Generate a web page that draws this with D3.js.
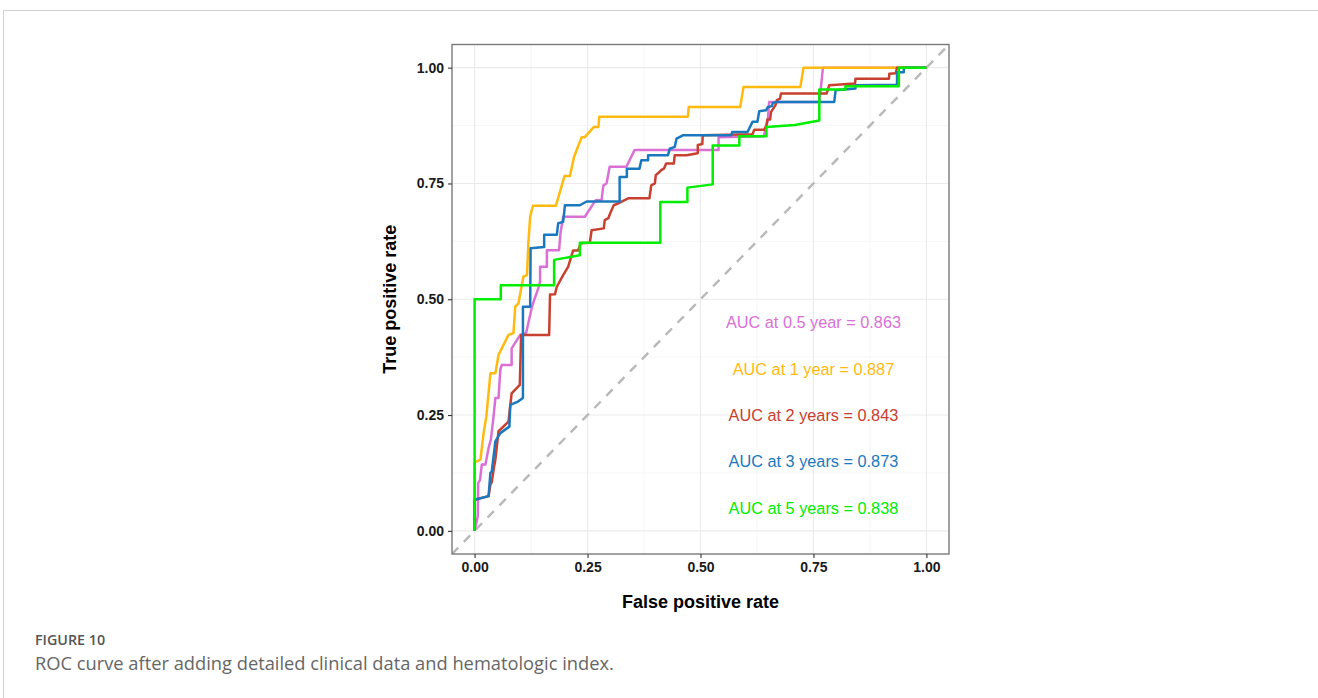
<!DOCTYPE html>
<html>
<head>
<meta charset="utf-8">
<script src="https://cdn.jsdelivr.net/npm/d3@7"></script>
<style>
  html, body { margin: 0; padding: 0; background: #fff; }
  svg { display: block; }
</style>
</head>
<body>
<div id="chart"></div>
<script>
// ROC points [false positive rate, true positive rate]
const roc05 = [[0,0],[0.007,0.031],[0.008,0.103],[0.012,0.11],[0.016,0.143],[0.024,0.143],[0.031,0.179],[0.036,0.197],
  [0.042,0.247],[0.046,0.287],[0.053,0.287],[0.057,0.348],[0.06,0.358],[0.082,0.358],[0.082,0.394],[0.101,0.423],
  [0.114,0.427],[0.127,0.484],[0.141,0.524],[0.145,0.538],[0.145,0.57],[0.16,0.57],[0.16,0.606],[0.187,0.606],
  [0.19,0.642],[0.196,0.678],[0.244,0.678],[0.268,0.714],[0.281,0.714],[0.285,0.746],[0.292,0.75],[0.299,0.786],
  [0.336,0.786],[0.354,0.822],[0.54,0.822],[0.54,0.85],[0.64,0.852],[0.649,0.886],[0.652,0.926],[0.763,0.926],
  [0.767,0.962],[0.771,1],[1,1]];
const roc1 = [[0,0],[0,0.148],[0.013,0.154],[0.02,0.211],[0.026,0.247],[0.033,0.319],[0.035,0.34],[0.046,0.34],
  [0.053,0.38],[0.075,0.423],[0.086,0.427],[0.09,0.484],[0.097,0.491],[0.108,0.549],[0.116,0.552],[0.119,0.621],
  [0.123,0.678],[0.129,0.702],[0.18,0.702],[0.199,0.766],[0.211,0.766],[0.22,0.807],[0.237,0.85],[0.244,0.85],
  [0.264,0.872],[0.274,0.872],[0.276,0.894],[0.472,0.894],[0.474,0.915],[0.588,0.915],[0.595,0.958],[0.721,0.958],
  [0.728,1],[1,1]];
const roc2 = [[0,0],[0,0.067],[0.031,0.075],[0.035,0.1],[0.038,0.105],[0.042,0.132],[0.046,0.154],[0.053,0.215],
  [0.075,0.236],[0.082,0.297],[0.1,0.315],[0.103,0.423],[0.165,0.423],[0.167,0.51],[0.178,0.511],[0.182,0.527],
  [0.196,0.552],[0.207,0.57],[0.218,0.605],[0.229,0.605],[0.235,0.621],[0.255,0.622],[0.259,0.649],[0.286,0.653],
  [0.288,0.671],[0.296,0.675],[0.3,0.685],[0.308,0.703],[0.318,0.707],[0.332,0.714],[0.34,0.718],[0.387,0.718],
  [0.391,0.746],[0.399,0.75],[0.401,0.768],[0.406,0.772],[0.413,0.779],[0.419,0.782],[0.424,0.793],[0.441,0.793],
  [0.443,0.811],[0.469,0.811],[0.494,0.815],[0.494,0.833],[0.504,0.835],[0.505,0.854],[0.615,0.856],[0.619,0.866],
  [0.641,0.866],[0.646,0.876],[0.648,0.888],[0.654,0.888],[0.656,0.904],[0.666,0.919],[0.669,0.93],[0.676,0.933],
  [0.678,0.944],[0.779,0.944],[0.785,0.962],[0.842,0.966],[0.843,0.976],[0.917,0.976],[0.918,0.987],[0.932,0.988],
  [0.935,1],[1,1]];
const roc3 = [[0,0],[0,0.067],[0.031,0.075],[0.035,0.125],[0.038,0.128],[0.046,0.193],[0.057,0.211],[0.077,0.225],
  [0.079,0.272],[0.096,0.279],[0.107,0.287],[0.107,0.484],[0.123,0.484],[0.124,0.61],[0.154,0.613],[0.154,0.639],
  [0.182,0.639],[0.185,0.664],[0.196,0.667],[0.2,0.703],[0.233,0.703],[0.248,0.711],[0.321,0.711],[0.321,0.764],
  [0.337,0.764],[0.337,0.782],[0.365,0.782],[0.369,0.8],[0.384,0.8],[0.384,0.811],[0.428,0.811],[0.432,0.825],
  [0.443,0.829],[0.447,0.847],[0.461,0.854],[0.568,0.854],[0.57,0.861],[0.604,0.861],[0.615,0.883],[0.626,0.883],
  [0.63,0.906],[0.645,0.908],[0.649,0.915],[0.658,0.917],[0.66,0.924],[0.669,0.926],[0.796,0.926],[0.799,0.951],
  [0.843,0.955],[0.843,0.962],[0.935,0.963],[0.935,0.99],[0.95,0.99],[0.95,1],[1,1]];
const roc5 = [[0,0],[0,0.5],[0.058,0.5],[0.058,0.53],[0.176,0.53],[0.176,0.585],[0.233,0.595],[0.233,0.622],
  [0.411,0.622],[0.411,0.71],[0.471,0.71],[0.471,0.741],[0.527,0.748],[0.527,0.832],[0.586,0.832],[0.586,0.852],
  [0.646,0.852],[0.646,0.872],[0.709,0.876],[0.763,0.886],[0.763,0.953],[0.821,0.953],[0.821,0.96],[0.939,0.96],
  [0.939,1],[1,1]];

const seriesNames = ['0.5 year', '1 year', '2 years', '3 years', '5 years'];
const seriesData = [roc05, roc1, roc2, roc3, roc5];
const aucValues = ['0.863', '0.887', '0.843', '0.873', '0.838'];
const labelY = [0.45, 0.35, 0.25, 0.15, 0.05];
const colors = ['#DA70D6', '#FFB90F', '#C8402F', '#1A78BE', '#00EE00'];
const ticks = [0, 0.25, 0.5, 0.75, 1];

const width = 1318, height = 698;
const panel = { left: 452, right: 949, top: 44.5, bottom: 554 };

const svg = d3.select('#chart').append('svg')
  .attr('width', width)
  .attr('height', height);

// page frame
svg.append('path')
  .attr('d', `M3.5,${height} V10.5 H${width}`)
  .attr('fill', 'none')
  .attr('stroke', '#cfcfcf')
  .attr('stroke-width', 1);

const x = d3.scaleLinear().domain([-0.05, 1.05]).range([panel.left, panel.right]);
const y = d3.scaleLinear().domain([-0.05, 1.05]).range([panel.bottom, panel.top]);

svg.append('clipPath').attr('id', 'clip')
  .append('rect')
    .attr('x', panel.left).attr('y', panel.top)
    .attr('width', panel.right - panel.left)
    .attr('height', panel.bottom - panel.top);

const plot = svg.append('g').attr('clip-path', 'url(#clip)');

// grid (minor then major)
const minor = [0.125, 0.375, 0.625, 0.875];
plot.selectAll('.gx-minor').data(minor).join('line')
  .attr('x1', d => x(d)).attr('x2', d => x(d))
  .attr('y1', panel.top).attr('y2', panel.bottom)
  .attr('stroke', '#f0f0f0').attr('stroke-width', 0.6);
plot.selectAll('.gy-minor').data(minor).join('line')
  .attr('y1', d => y(d)).attr('y2', d => y(d))
  .attr('x1', panel.left).attr('x2', panel.right)
  .attr('stroke', '#f0f0f0').attr('stroke-width', 0.6);
plot.selectAll('.gx').data(ticks).join('line')
  .attr('x1', d => x(d)).attr('x2', d => x(d))
  .attr('y1', panel.top).attr('y2', panel.bottom)
  .attr('stroke', '#ebebeb').attr('stroke-width', 1.1);
plot.selectAll('.gy').data(ticks).join('line')
  .attr('y1', d => y(d)).attr('y2', d => y(d))
  .attr('x1', panel.left).attr('x2', panel.right)
  .attr('stroke', '#ebebeb').attr('stroke-width', 1.1);

// reference diagonal
plot.append('line')
  .attr('x1', x(-0.05)).attr('y1', y(-0.05))
  .attr('x2', x(1.05)).attr('y2', y(1.05))
  .attr('stroke', '#b8b8b8')
  .attr('stroke-width', 2.4)
  .attr('stroke-dasharray', '9,8');

const line = d3.line().x(d => x(d[0])).y(d => y(d[1]));

plot.selectAll('.roc').data(seriesData).join('path')
  .attr('class', 'roc')
  .attr('d', line)
  .attr('fill', 'none')
  .attr('stroke', (d, i) => colors[i])
  .attr('stroke-width', 2.5)
  .attr('stroke-linejoin', 'round');

// AUC labels
svg.selectAll('.auc').data(seriesNames).join('text')
  .attr('x', x(0.75))
  .attr('y', (d, i) => y(labelY[i]))
  .attr('dy', '0.36em')
  .attr('text-anchor', 'middle')
  .attr('fill', (d, i) => colors[i])
  .style('font-family', 'Arial, "Liberation Sans", sans-serif')
  .style('font-size', '16.3px')
  .text((d, i) => `AUC at ${d} = ${aucValues[i]}`);

// panel border
svg.append('rect')
  .attr('x', panel.left).attr('y', panel.top)
  .attr('width', panel.right - panel.left)
  .attr('height', panel.bottom - panel.top)
  .attr('fill', 'none')
  .attr('stroke', '#7a7a7a')
  .attr('stroke-width', 1.4);

// axes
const fmt = d3.format('.2f');
const xAxis = svg.append('g')
  .attr('transform', `translate(0,${panel.bottom})`)
  .call(d3.axisBottom(x).tickValues(ticks).tickFormat(fmt).tickSize(4).tickPadding(4));
const yAxis = svg.append('g')
  .attr('transform', `translate(${panel.left},0)`)
  .call(d3.axisLeft(y).tickValues(ticks).tickFormat(fmt).tickSize(4).tickPadding(4));

[xAxis, yAxis].forEach(g => {
  g.select('.domain').remove();
  g.selectAll('.tick line').attr('stroke', '#333').attr('stroke-width', 1.1);
  g.selectAll('.tick text')
    .attr('fill', '#1a1a1a')
    .style('font-family', 'Arial, "Liberation Sans", sans-serif')
    .style('font-size', '14px')
    .style('font-weight', 'bold');
});

svg.append('text')
  .attr('x', (panel.left + panel.right) / 2)
  .attr('y', 608)
  .attr('text-anchor', 'middle')
  .style('font-family', 'Arial, "Liberation Sans", sans-serif')
  .style('font-size', '18px')
  .style('font-weight', 'bold')
  .text('False positive rate');

svg.append('text')
  .attr('transform', `translate(396,${(panel.top + panel.bottom) / 2}) rotate(-90)`)
  .attr('text-anchor', 'middle')
  .style('font-family', 'Arial, "Liberation Sans", sans-serif')
  .style('font-size', '18px')
  .style('font-weight', 'bold')
  .text('True positive rate');

// caption
svg.append('text')
  .attr('x', 35).attr('y', 645)
  .attr('fill', '#555')
  .style('font-family', '"Open Sans", sans-serif')
  .style('font-size', '14.3px')
  .style('font-weight', '600')
  .text('FIGURE 10');

svg.append('text')
  .attr('x', 35).attr('y', 670)
  .attr('fill', '#666')
  .style('font-family', '"Open Sans", sans-serif')
  .style('font-size', '18.3px')
  .text('ROC curve after adding detailed clinical data and hematologic index.');
</script>
</body>
</html>
